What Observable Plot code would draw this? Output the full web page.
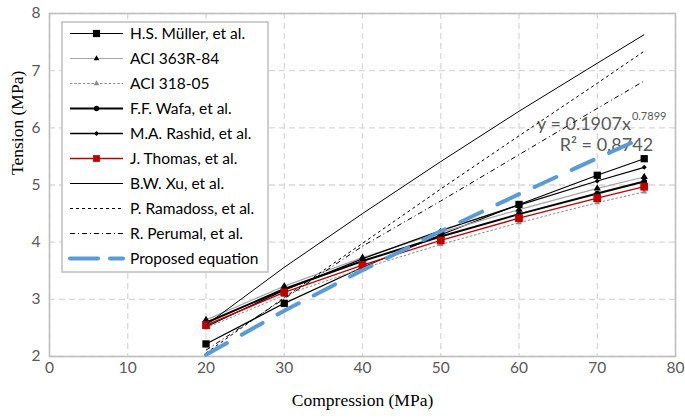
<!DOCTYPE html>
<html>
<head>
<meta charset="utf-8">
<script src="https://cdn.jsdelivr.net/npm/d3@7"></script>
<script src="https://cdn.jsdelivr.net/npm/@observablehq/plot@0.6"></script>
<style>
  html, body { margin: 0; padding: 0; background: #fff; }
  #chart { width: 685px; height: 419px; }
</style>
</head>
<body>
<div id="chart"></div>
<script>
// ---- data ----
const compression = [20, 30, 40, 50, 60, 70, 76];
const muller   = [2.22, 2.93, 3.56, 4.13, 4.66, 5.17, 5.46];
const aci363   = [2.64, 3.23, 3.73, 4.17, 4.57, 4.94, 5.14];
const aci318   = [2.50, 3.07, 3.54, 3.96, 4.34, 4.69, 4.88];
const wafa     = [2.59, 3.18, 3.67, 4.10, 4.49, 4.85, 5.06];
const rashid   = [2.52, 3.16, 3.71, 4.20, 4.65, 5.07, 5.31];
const thomas   = [2.55, 3.12, 3.60, 4.03, 4.42, 4.77, 4.97];
const xu       = [2.55, 3.56, 4.50, 5.41, 6.29, 7.13, 7.63];
const ramadoss = [2.06, 3.03, 3.98, 4.93, 5.86, 6.78, 7.34];
const perumal  = [2.11, 3.01, 3.93, 4.72, 5.53, 6.34, 6.82];
const proposed = [2.03, 2.80, 3.51, 4.19, 4.84, 5.47, 5.84];

const seriesNames = ["H.S. Müller, et al.", "ACI 363R-84", "ACI 318-05", "F.F. Wafa, et al.",
  "M.A. Rashid, et al.", "J. Thomas, et al.", "B.W. Xu, et al.", "P. Ramadoss, et al.",
  "R. Perumal, et al.", "Proposed equation"];
const seriesValues = [muller, aci363, aci318, wafa, rashid, thomas, xu, ramadoss, perumal, proposed];

const xTicks = [0, 10, 20, 30, 40, 50, 60, 70, 80];
const yTicks = [2, 3, 4, 5, 6, 7, 8];
const xTitle = "Compression (MPa)";
const yTitle = "Tension (MPa)";
const eqMain = "y = 0.1907x";
const eqExp = "0.7899";
const eqR2 = "R² = 0.8742";

// ---- styles (separate from data) ----
const styles = [
  {stroke: "#000", sw: 1.2, dash: null, symbol: "square", fill: "#000", r: 4.1, lsize: 52},
  {stroke: "#a6a6a6", sw: 1.2, dash: null, symbol: "triangle", fill: "#000", r: 2.7, lsize: 14},
  {stroke: "#8c8c8c", sw: 1, dash: "2.5,1.8", symbol: "triangle", fill: "#8c8c8c", r: 2.1, lsize: 14},
  {stroke: "#000", sw: 2, dash: null, symbol: "circle", fill: "#000", r: 2.9, lsize: 22},
  {stroke: "#000", sw: 1.3, dash: null, symbol: "diamond2", fill: "#000", r: 2.3, lsize: 12},
  {stroke: "#c00000", sw: 1.3, dash: null, symbol: "square", fill: "#c00000", r: 4.4, lsize: 46},
  {stroke: "#000", sw: 1, dash: null, symbol: null},
  {stroke: "#000", sw: 1, dash: "3,3", symbol: null},
  {stroke: "#000", sw: 1, dash: "5,3,1,3", symbol: null},
  {stroke: "#5b9bd5", sw: 4, dash: "24,17", symbol: null, cap: "round"}
];

const rows = [];
seriesValues.forEach((vals, s) => compression.forEach((x, i) => rows.push({s, name: seriesNames[s], x, y: vals[i]})));

const marks = [
  Plot.gridX(xTicks, {stroke: "#d9d9d9", strokeOpacity: 1, strokeWidth: 1.3, strokeDasharray: "6,4"}),
  Plot.gridY(yTicks, {stroke: "#d9d9d9", strokeOpacity: 1, strokeWidth: 1.3, strokeDasharray: "6,4"}),
  Plot.frame({stroke: "#bfbfbf", strokeWidth: 1.6}),
  Plot.axisX(xTicks, {tickSize: 0, tickPadding: 5, fontSize: 15.5, fill: "#595959", label: null, fontFamily: "Lato", tickFormat: d => String(d)}),
  Plot.axisY(yTicks, {tickSize: 0, tickPadding: 9, fontSize: 15.5, fill: "#595959", label: null, fontFamily: "Lato", tickFormat: d => String(d)}),
  Plot.text([xTitle], {frameAnchor: "bottom", dy: 49, fontSize: 17.5, fontFamily: "Liberation Serif", fill: "#000"}),
  Plot.text([yTitle], {frameAnchor: "left", rotate: -90, dx: -32, dy: -10, fontSize: 17.5, fontFamily: "Liberation Serif", fill: "#000"}),
  Plot.text([eqMain], {x: () => 74.3, y: () => 6.07, textAnchor: "end", fontSize: 18, fontFamily: "Lato", fill: "#595959"}),
  Plot.text([eqExp], {x: () => 74.3, y: () => 6.07, textAnchor: "start", dx: 1, dy: -7, fontSize: 11, fontFamily: "Lato", fill: "#595959"}),
  Plot.text([eqR2], {x: () => 65.2, y: () => 5.69, textAnchor: "start", fontSize: 18, fontFamily: "Lato", fill: "#595959"})
];

styles.forEach((st, s) => {
  const data = rows.filter(d => d.s === s);
  marks.push(Plot.line(data, {x: "x", y: "y", stroke: st.stroke, strokeWidth: st.sw,
    strokeDasharray: st.dash || undefined, strokeLinecap: st.cap || "butt", curve: "linear"}));
  if (st.symbol) {
    marks.push(Plot.dot(data, {x: "x", y: "y", symbol: () => st.symbol, r: st.r, fill: st.fill, stroke: "none"}));
  }
});

const chart = Plot.plot({
  width: 685, height: 419,
  marginLeft: 49, marginRight: 10, marginTop: 13, marginBottom: 63,
  x: {domain: [0, 80], label: null},
  y: {domain: [2, 8], label: null},
  symbol: {type: "identity"},
  style: {fontFamily: "Lato", background: "#fff"},
  marks
});
document.getElementById("chart").appendChild(chart);

// ---- legend drawn inside the plot frame ----
const svg = d3.select(chart);
const lg = svg.append("g").attr("class", "legend");
const box = {x0: 62, y0: 22, x1: 268, y1: 272};
lg.append("rect").attr("x", box.x0).attr("y", box.y0).attr("width", box.x1 - box.x0).attr("height", box.y1 - box.y0)
  .attr("fill", "#fff").attr("stroke", "#bfbfbf").attr("stroke-width", 1.5);
const symMap = {square: d3.symbolSquare, triangle: d3.symbolTriangle, circle: d3.symbolCircle, diamond2: d3.symbolSquare};
seriesNames.forEach((name, i) => {
  const st = styles[i];
  const cy = 33.5 + 25 * i;
  lg.append("line").attr("x1", 70).attr("x2", 123).attr("y1", cy).attr("y2", cy)
    .attr("stroke", st.stroke).attr("stroke-width", st.sw)
    .attr("stroke-dasharray", i === 9 ? "28,12" : (st.dash || null))
    .attr("stroke-linecap", st.cap || "butt");
  if (st.symbol) {
    lg.append("path").attr("d", d3.symbol(symMap[st.symbol], st.lsize)())
      .attr("transform", `translate(96.5,${cy})` + (st.symbol === "diamond2" ? " rotate(45)" : ""))
      .attr("fill", st.fill);
  }
  lg.append("text").attr("x", 130).attr("y", cy).attr("dy", "0.35em").attr("text-anchor", "start")
    .attr("font-family", "Lato").attr("font-size", 15.5).attr("fill", "#000").text(name);
});
</script>
</body>
</html>
